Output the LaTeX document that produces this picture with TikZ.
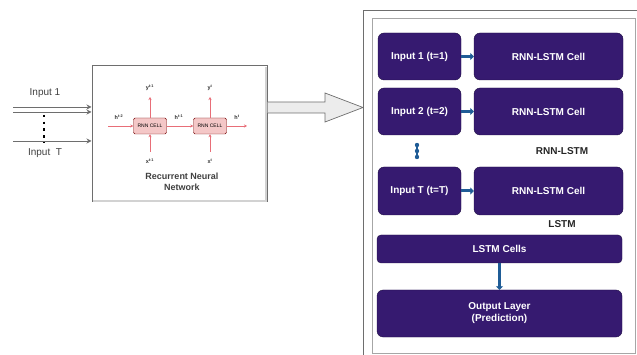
\documentclass[tikz,border=0pt]{standalone}
\usepackage{fontspec}
\setmainfont{Liberation Sans}
\setsansfont{Liberation Sans}
\usepackage{tikz}
\usetikzlibrary{positioning,arrows.meta,calc}
\definecolor{lstmc}{RGB}{54,26,112}
\definecolor{flowc}{RGB}{31,92,150}
\definecolor{cellc}{RGB}{244,199,199}
\definecolor{hidc}{RGB}{232,110,120}
\definecolor{framec}{RGB}{110,110,110}
\tikzset{
  purple/.style  = {draw=lstmc!60!black, fill=lstmc, rounded corners=6pt, text=white,
                    align=center, inner sep=2pt, font=\sffamily\bfseries\fontsize{10}{12}\selectfont},
  rnncell/.style = {draw=red!45!black, fill=cellc, rounded corners=1.5pt,
                    minimum width=33pt, minimum height=16pt, inner sep=0pt,
                    font=\sffamily\fontsize{5}{5}\selectfont},
  hid/.style     = {-{Stealth[length=3pt,width=3pt]}, draw=hidc, line width=0.7pt},
  feed/.style    = {-{Stealth[length=5pt,width=5pt]}, draw=framec, line width=0.8pt},
  blue/.style    = {-{Triangle[length=3.5pt,width=7pt]}, draw=flowc, line width=3pt},
  lbl/.style     = {font=\sffamily\bfseries\fontsize{5.5}{6}\selectfont, text=black!80},
  note/.style    = {font=\sffamily\bfseries\fontsize{10}{12}\selectfont, text=black!85},
  inlbl/.style   = {font=\sffamily\fontsize{10}{12}\selectfont, text=black!75},
}
\begin{document}
\begin{tikzpicture}[x=1pt, y=-1pt]
\useasboundingbox (0,0) rectangle (637,355);

% right frame
\draw[framec, line width=0.8pt] (363,360) -- (363,10) -- (645,10);
\node[draw=gray!70, line width=0.8pt, minimum width=263pt, minimum height=335pt, inner sep=0pt]
  (frame) at (503.5,185.5) {};

% lstm stack
\node[purple, minimum width=83pt, minimum height=47pt] (in1) at (419.5,56.5) {Input 1 (t=1)};
\node[purple, minimum width=149pt, minimum height=47pt] (cell1) at (548.5,56.5) {RNN-LSTM Cell};
\node[purple, minimum width=83pt, minimum height=47pt] (in2) at (419.5,111.5) {Input 2 (t=2)};
\node[purple, minimum width=149pt, minimum height=47pt] (cell2) at (548.5,111.5) {RNN-LSTM Cell};
\node[purple, minimum width=83pt, minimum height=48pt] (inT) at (419.5,191) {Input T (t=T)};
\node[purple, minimum width=149pt, minimum height=48pt] (cellT) at (548.5,191) {RNN-LSTM Cell};
\node[note] (rnnlstm) at (562,151) {RNN-LSTM};
\node[note] (lstm) at (562,224) {LSTM};
\node[purple, rounded corners=4pt, minimum width=245pt, minimum height=28pt] (cells) at (499.5,249) {LSTM Cells};
\node[purple, minimum width=245pt, minimum height=47pt] (out) at (499.5,313.5)
  {Output Layer\\(Prediction)};

\draw[blue] (in1) -- (cell1);
\draw[blue] (in2) -- (cell2);
\draw[blue] (inT) -- (cellT);
\draw[blue] (cells) -- (out);
\draw[flowc, line width=1.5pt] (417,145) -- (417,157);
\foreach \y in {145,151,157} \fill[flowc] (417,\y) circle (2.2pt);

% left rnn box
\node[draw=framec, line width=1pt, fill=white, minimum width=175pt, minimum height=136pt,
  inner sep=0pt] (rnn) at (179.5,134) {};
\draw[gray!35, line width=1.5pt] ($(rnn.south west)+(1.5,-1.5)$) -- ($(rnn.south east)+(-1.5,-1.5)$)
  -- ($(rnn.north east)+(-1.5,1.5)$);

\coordinate (a1) at (13,107);
\coordinate (a2) at (13,112);
\coordinate (aT) at (13,141);
\draw[feed] (a1) -- (a1 -| rnn.west);
\draw[feed] (a2) -- (a2 -| rnn.west);
\draw[feed] (aT) -- (aT -| rnn.west);
\node[inlbl] (lab1) at (45,93) {Input 1};
\node[inlbl] (labT) at (45,153) {Input~~T};
\draw[black, line width=2.5pt, dash pattern=on 2.5pt off 4.2pt] (44,115) -- (44,142);

\node[rnncell] (c1) at (150,126) {RNN CELL};
\node[rnncell] (c2) at (210,126) {RNN CELL};
\coordinate (h0) at (108,126);
\coordinate (h2) at (247,126);
\draw[hid] (h0) -- (c1);
\draw[hid] (c1) -- (c2);
\draw[hid] (c2) -- (h2);
\node[lbl] (y1) at (150,88) {y\textsuperscript{t-1}};
\node[lbl] (y2) at (210,88) {y\textsuperscript{t}};
\node[lbl] (x1) at (150,161) {x\textsuperscript{t-1}};
\node[lbl] (x2) at (210,161) {x\textsuperscript{t}};
\node[lbl] (hl0) at (119,117) {h\textsuperscript{t-2}};
\node[lbl] (hl1) at (179,117) {h\textsuperscript{t-1}};
\node[lbl] (hl2) at (237,117) {h\textsuperscript{t}};
\draw[hid] (c1) -- (150,97);
\draw[hid] (c2) -- (210,97);
\draw[hid] (150,152) -- (c1);
\draw[hid] (210,152) -- (c2);
\node[font=\sffamily\bfseries\fontsize{9}{11}\selectfont, text=black!75, align=center]
  (rnnlab) at (182,182) {Recurrent Neural\\Network};

% big hollow arrow into the frame
\draw[framec, fill=gray!15, line width=0.7pt]
  (rnn.east |- 0,102) -- (325,102) -- (325,93) -- (363,107.5) -- (325,122) -- (325,113)
  -- (rnn.east |- 0,113);
\end{tikzpicture}
\end{document}
